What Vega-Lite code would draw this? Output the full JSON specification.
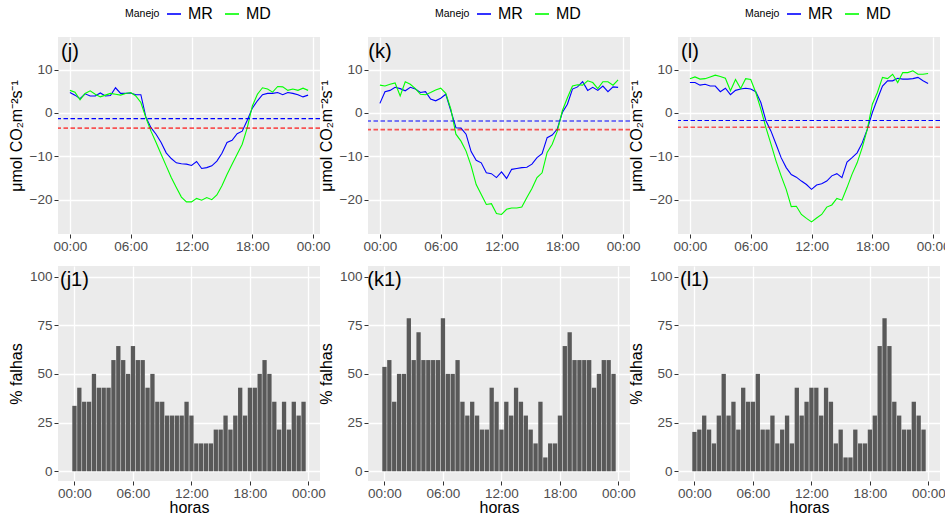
{
  "$schema": "https://vega.github.io/schema/vega-lite/v6.json",
  "padding": {"left": 8, "top": 6, "right": 5, "bottom": 2},
  "background": "white",
  "datasets": {
    "fluxo": [
      {"p":"j","m":"MR","h":0,"v":4.7},{"p":"j","m":"MR","h":0.5,"v":4.1},{"p":"j","m":"MR","h":1,"v":3.3},{"p":"j","m":"MR","h":1.5,"v":4.4},{"p":"j","m":"MR","h":2,"v":3.9},{"p":"j","m":"MR","h":2.5,"v":3.9},{"p":"j","m":"MR","h":3,"v":4.6},{"p":"j","m":"MR","h":3.5,"v":3.9},{"p":"j","m":"MR","h":4,"v":4.0},{"p":"j","m":"MR","h":4.5,"v":5.8},{"p":"j","m":"MR","h":5,"v":4.5},{"p":"j","m":"MR","h":5.5,"v":4.5},{"p":"j","m":"MR","h":6,"v":4.6},{"p":"j","m":"MR","h":6.5,"v":4.2},{"p":"j","m":"MR","h":7,"v":4.2},{"p":"j","m":"MR","h":7.5,"v":-1.0},{"p":"j","m":"MR","h":8,"v":-3.4},{"p":"j","m":"MR","h":8.5,"v":-4.9},{"p":"j","m":"MR","h":9,"v":-6.8},{"p":"j","m":"MR","h":9.5,"v":-9.2},{"p":"j","m":"MR","h":10,"v":-10.5},{"p":"j","m":"MR","h":10.5,"v":-11.5},{"p":"j","m":"MR","h":11,"v":-11.7},{"p":"j","m":"MR","h":11.5,"v":-11.8},{"p":"j","m":"MR","h":12,"v":-12.1},{"p":"j","m":"MR","h":12.5,"v":-11.2},{"p":"j","m":"MR","h":13,"v":-12.8},{"p":"j","m":"MR","h":13.5,"v":-12.6},{"p":"j","m":"MR","h":14,"v":-12.2},{"p":"j","m":"MR","h":14.5,"v":-11.1},{"p":"j","m":"MR","h":15,"v":-9.3},{"p":"j","m":"MR","h":15.5,"v":-6.8},{"p":"j","m":"MR","h":16,"v":-6.3},{"p":"j","m":"MR","h":16.5,"v":-4.8},{"p":"j","m":"MR","h":17,"v":-4.2},{"p":"j","m":"MR","h":17.5,"v":-1.7},{"p":"j","m":"MR","h":18,"v":1.1},{"p":"j","m":"MR","h":18.5,"v":2.8},{"p":"j","m":"MR","h":19,"v":4.2},{"p":"j","m":"MR","h":19.5,"v":4.5},{"p":"j","m":"MR","h":20,"v":4.5},{"p":"j","m":"MR","h":20.5,"v":4.7},{"p":"j","m":"MR","h":21,"v":4.2},{"p":"j","m":"MR","h":21.5,"v":4.7},{"p":"j","m":"MR","h":22,"v":4.5},{"p":"j","m":"MR","h":22.5,"v":4.2},{"p":"j","m":"MR","h":23,"v":3.7},{"p":"j","m":"MR","h":23.5,"v":4.1},
      {"p":"j","m":"MD","h":0,"v":5.2},{"p":"j","m":"MD","h":0.5,"v":4.8},{"p":"j","m":"MD","h":1,"v":3.0},{"p":"j","m":"MD","h":1.5,"v":4.5},{"p":"j","m":"MD","h":2,"v":5.1},{"p":"j","m":"MD","h":2.5,"v":4.3},{"p":"j","m":"MD","h":3,"v":3.7},{"p":"j","m":"MD","h":3.5,"v":4.1},{"p":"j","m":"MD","h":4,"v":4.5},{"p":"j","m":"MD","h":4.5,"v":4.3},{"p":"j","m":"MD","h":5,"v":4.1},{"p":"j","m":"MD","h":5.5,"v":4.5},{"p":"j","m":"MD","h":6,"v":4.7},{"p":"j","m":"MD","h":6.5,"v":3.9},{"p":"j","m":"MD","h":7,"v":2.4},{"p":"j","m":"MD","h":7.5,"v":-1.1},{"p":"j","m":"MD","h":8,"v":-4.2},{"p":"j","m":"MD","h":8.5,"v":-6.8},{"p":"j","m":"MD","h":9,"v":-9.5},{"p":"j","m":"MD","h":9.5,"v":-12.2},{"p":"j","m":"MD","h":10,"v":-14.9},{"p":"j","m":"MD","h":10.5,"v":-17.2},{"p":"j","m":"MD","h":11,"v":-19.4},{"p":"j","m":"MD","h":11.5,"v":-20.5},{"p":"j","m":"MD","h":12,"v":-20.5},{"p":"j","m":"MD","h":12.5,"v":-19.7},{"p":"j","m":"MD","h":13,"v":-20.1},{"p":"j","m":"MD","h":13.5,"v":-19.5},{"p":"j","m":"MD","h":14,"v":-20.0},{"p":"j","m":"MD","h":14.5,"v":-18.9},{"p":"j","m":"MD","h":15,"v":-16.8},{"p":"j","m":"MD","h":15.5,"v":-14.2},{"p":"j","m":"MD","h":16,"v":-11.8},{"p":"j","m":"MD","h":16.5,"v":-9.5},{"p":"j","m":"MD","h":17,"v":-7.2},{"p":"j","m":"MD","h":17.5,"v":-3.4},{"p":"j","m":"MD","h":18,"v":1.6},{"p":"j","m":"MD","h":18.5,"v":4.3},{"p":"j","m":"MD","h":19,"v":5.8},{"p":"j","m":"MD","h":19.5,"v":5.5},{"p":"j","m":"MD","h":20,"v":4.8},{"p":"j","m":"MD","h":20.5,"v":6.1},{"p":"j","m":"MD","h":21,"v":6.0},{"p":"j","m":"MD","h":21.5,"v":5.2},{"p":"j","m":"MD","h":22,"v":5.5},{"p":"j","m":"MD","h":22.5,"v":5.2},{"p":"j","m":"MD","h":23,"v":5.7},{"p":"j","m":"MD","h":23.5,"v":5.2},
      {"p":"k","m":"MR","h":0,"v":2.2},{"p":"k","m":"MR","h":0.5,"v":4.9},{"p":"k","m":"MR","h":1,"v":5.2},{"p":"k","m":"MR","h":1.5,"v":5.9},{"p":"k","m":"MR","h":2,"v":5.6},{"p":"k","m":"MR","h":2.5,"v":5.1},{"p":"k","m":"MR","h":3,"v":5.9},{"p":"k","m":"MR","h":3.5,"v":5.5},{"p":"k","m":"MR","h":4,"v":4.7},{"p":"k","m":"MR","h":4.5,"v":4.9},{"p":"k","m":"MR","h":5,"v":3.2},{"p":"k","m":"MR","h":5.5,"v":2.8},{"p":"k","m":"MR","h":6,"v":3.4},{"p":"k","m":"MR","h":6.5,"v":4.3},{"p":"k","m":"MR","h":7,"v":0.5},{"p":"k","m":"MR","h":7.5,"v":-3.4},{"p":"k","m":"MR","h":8,"v":-3.5},{"p":"k","m":"MR","h":8.5,"v":-4.9},{"p":"k","m":"MR","h":9,"v":-8.9},{"p":"k","m":"MR","h":9.5,"v":-10.9},{"p":"k","m":"MR","h":10,"v":-11.5},{"p":"k","m":"MR","h":10.5,"v":-13.8},{"p":"k","m":"MR","h":11,"v":-14.0},{"p":"k","m":"MR","h":11.5,"v":-14.9},{"p":"k","m":"MR","h":12,"v":-13.6},{"p":"k","m":"MR","h":12.5,"v":-15.1},{"p":"k","m":"MR","h":13,"v":-13.0},{"p":"k","m":"MR","h":13.5,"v":-12.8},{"p":"k","m":"MR","h":14,"v":-12.6},{"p":"k","m":"MR","h":14.5,"v":-12.5},{"p":"k","m":"MR","h":15,"v":-11.8},{"p":"k","m":"MR","h":15.5,"v":-10.3},{"p":"k","m":"MR","h":16,"v":-9.4},{"p":"k","m":"MR","h":16.5,"v":-5.7},{"p":"k","m":"MR","h":17,"v":-5.1},{"p":"k","m":"MR","h":17.5,"v":-3.7},{"p":"k","m":"MR","h":18,"v":0.1},{"p":"k","m":"MR","h":18.5,"v":2.0},{"p":"k","m":"MR","h":19,"v":5.5},{"p":"k","m":"MR","h":19.5,"v":6.0},{"p":"k","m":"MR","h":20,"v":7.2},{"p":"k","m":"MR","h":20.5,"v":5.2},{"p":"k","m":"MR","h":21,"v":5.9},{"p":"k","m":"MR","h":21.5,"v":5.2},{"p":"k","m":"MR","h":22,"v":6.2},{"p":"k","m":"MR","h":22.5,"v":4.9},{"p":"k","m":"MR","h":23,"v":6.0},{"p":"k","m":"MR","h":23.5,"v":5.9},
      {"p":"k","m":"MD","h":0,"v":6.4},{"p":"k","m":"MD","h":0.5,"v":6.2},{"p":"k","m":"MD","h":1,"v":6.6},{"p":"k","m":"MD","h":1.5,"v":6.9},{"p":"k","m":"MD","h":2,"v":3.9},{"p":"k","m":"MD","h":2.5,"v":7.2},{"p":"k","m":"MD","h":3,"v":6.6},{"p":"k","m":"MD","h":3.5,"v":5.6},{"p":"k","m":"MD","h":4,"v":4.3},{"p":"k","m":"MD","h":4.5,"v":4.2},{"p":"k","m":"MD","h":5,"v":4.7},{"p":"k","m":"MD","h":5.5,"v":5.3},{"p":"k","m":"MD","h":6,"v":5.7},{"p":"k","m":"MD","h":6.5,"v":4.5},{"p":"k","m":"MD","h":7,"v":0.9},{"p":"k","m":"MD","h":7.5,"v":-4.9},{"p":"k","m":"MD","h":8,"v":-6.5},{"p":"k","m":"MD","h":8.5,"v":-8.8},{"p":"k","m":"MD","h":9,"v":-12.2},{"p":"k","m":"MD","h":9.5,"v":-16.5},{"p":"k","m":"MD","h":10,"v":-18.8},{"p":"k","m":"MD","h":10.5,"v":-21.1},{"p":"k","m":"MD","h":11,"v":-20.9},{"p":"k","m":"MD","h":11.5,"v":-23.2},{"p":"k","m":"MD","h":12,"v":-23.4},{"p":"k","m":"MD","h":12.5,"v":-22.2},{"p":"k","m":"MD","h":13,"v":-21.9},{"p":"k","m":"MD","h":13.5,"v":-21.9},{"p":"k","m":"MD","h":14,"v":-21.7},{"p":"k","m":"MD","h":14.5,"v":-19.5},{"p":"k","m":"MD","h":15,"v":-17.4},{"p":"k","m":"MD","h":15.5,"v":-14.9},{"p":"k","m":"MD","h":16,"v":-13.8},{"p":"k","m":"MD","h":16.5,"v":-9.1},{"p":"k","m":"MD","h":17,"v":-7.2},{"p":"k","m":"MD","h":17.5,"v":-4.2},{"p":"k","m":"MD","h":18,"v":0.5},{"p":"k","m":"MD","h":18.5,"v":3.5},{"p":"k","m":"MD","h":19,"v":6.2},{"p":"k","m":"MD","h":19.5,"v":6.5},{"p":"k","m":"MD","h":20,"v":6.4},{"p":"k","m":"MD","h":20.5,"v":7.4},{"p":"k","m":"MD","h":21,"v":7.0},{"p":"k","m":"MD","h":21.5,"v":5.6},{"p":"k","m":"MD","h":22,"v":7.2},{"p":"k","m":"MD","h":22.5,"v":7.2},{"p":"k","m":"MD","h":23,"v":6.4},{"p":"k","m":"MD","h":23.5,"v":7.6},
      {"p":"l","m":"MR","h":0,"v":7.0},{"p":"l","m":"MR","h":0.5,"v":7.0},{"p":"l","m":"MR","h":1,"v":6.4},{"p":"l","m":"MR","h":1.5,"v":6.6},{"p":"l","m":"MR","h":2,"v":6.2},{"p":"l","m":"MR","h":2.5,"v":6.2},{"p":"l","m":"MR","h":3,"v":4.9},{"p":"l","m":"MR","h":3.5,"v":5.7},{"p":"l","m":"MR","h":4,"v":4.2},{"p":"l","m":"MR","h":4.5,"v":5.2},{"p":"l","m":"MR","h":5,"v":5.5},{"p":"l","m":"MR","h":5.5,"v":5.7},{"p":"l","m":"MR","h":6,"v":5.5},{"p":"l","m":"MR","h":6.5,"v":4.9},{"p":"l","m":"MR","h":7,"v":2.4},{"p":"l","m":"MR","h":7.5,"v":-1.8},{"p":"l","m":"MR","h":8,"v":-4.2},{"p":"l","m":"MR","h":8.5,"v":-7.2},{"p":"l","m":"MR","h":9,"v":-10.3},{"p":"l","m":"MR","h":9.5,"v":-12.6},{"p":"l","m":"MR","h":10,"v":-14.2},{"p":"l","m":"MR","h":10.5,"v":-14.8},{"p":"l","m":"MR","h":11,"v":-15.7},{"p":"l","m":"MR","h":11.5,"v":-16.5},{"p":"l","m":"MR","h":12,"v":-17.6},{"p":"l","m":"MR","h":12.5,"v":-16.6},{"p":"l","m":"MR","h":13,"v":-16.3},{"p":"l","m":"MR","h":13.5,"v":-15.7},{"p":"l","m":"MR","h":14,"v":-14.5},{"p":"l","m":"MR","h":14.5,"v":-14.0},{"p":"l","m":"MR","h":15,"v":-14.9},{"p":"l","m":"MR","h":15.5,"v":-11.3},{"p":"l","m":"MR","h":16,"v":-10.3},{"p":"l","m":"MR","h":16.5,"v":-9.2},{"p":"l","m":"MR","h":17,"v":-6.9},{"p":"l","m":"MR","h":17.5,"v":-3.8},{"p":"l","m":"MR","h":18,"v":0.1},{"p":"l","m":"MR","h":18.5,"v":3.2},{"p":"l","m":"MR","h":19,"v":6.2},{"p":"l","m":"MR","h":19.5,"v":7.4},{"p":"l","m":"MR","h":20,"v":7.4},{"p":"l","m":"MR","h":20.5,"v":8.0},{"p":"l","m":"MR","h":21,"v":7.8},{"p":"l","m":"MR","h":21.5,"v":7.8},{"p":"l","m":"MR","h":22,"v":7.9},{"p":"l","m":"MR","h":22.5,"v":8.2},{"p":"l","m":"MR","h":23,"v":7.4},{"p":"l","m":"MR","h":23.5,"v":6.8},
      {"p":"l","m":"MD","h":0,"v":7.9},{"p":"l","m":"MD","h":0.5,"v":8.3},{"p":"l","m":"MD","h":1,"v":7.8},{"p":"l","m":"MD","h":1.5,"v":7.9},{"p":"l","m":"MD","h":2,"v":8.3},{"p":"l","m":"MD","h":2.5,"v":8.7},{"p":"l","m":"MD","h":3,"v":8.4},{"p":"l","m":"MD","h":3.5,"v":8.0},{"p":"l","m":"MD","h":4,"v":5.1},{"p":"l","m":"MD","h":4.5,"v":7.7},{"p":"l","m":"MD","h":5,"v":5.6},{"p":"l","m":"MD","h":5.5,"v":7.9},{"p":"l","m":"MD","h":6,"v":7.7},{"p":"l","m":"MD","h":6.5,"v":4.7},{"p":"l","m":"MD","h":7,"v":0.9},{"p":"l","m":"MD","h":7.5,"v":-3.4},{"p":"l","m":"MD","h":8,"v":-7.2},{"p":"l","m":"MD","h":8.5,"v":-11.1},{"p":"l","m":"MD","h":9,"v":-14.5},{"p":"l","m":"MD","h":9.5,"v":-17.6},{"p":"l","m":"MD","h":10,"v":-21.6},{"p":"l","m":"MD","h":10.5,"v":-21.5},{"p":"l","m":"MD","h":11,"v":-23.4},{"p":"l","m":"MD","h":11.5,"v":-24.3},{"p":"l","m":"MD","h":12,"v":-25.1},{"p":"l","m":"MD","h":12.5,"v":-24.2},{"p":"l","m":"MD","h":13,"v":-23.4},{"p":"l","m":"MD","h":13.5,"v":-21.7},{"p":"l","m":"MD","h":14,"v":-21.2},{"p":"l","m":"MD","h":14.5,"v":-19.7},{"p":"l","m":"MD","h":15,"v":-20.1},{"p":"l","m":"MD","h":15.5,"v":-17.2},{"p":"l","m":"MD","h":16,"v":-14.1},{"p":"l","m":"MD","h":16.5,"v":-11.5},{"p":"l","m":"MD","h":17,"v":-8.0},{"p":"l","m":"MD","h":17.5,"v":-3.8},{"p":"l","m":"MD","h":18,"v":2.0},{"p":"l","m":"MD","h":18.5,"v":4.7},{"p":"l","m":"MD","h":19,"v":8.2},{"p":"l","m":"MD","h":19.5,"v":7.9},{"p":"l","m":"MD","h":20,"v":8.9},{"p":"l","m":"MD","h":20.5,"v":7.0},{"p":"l","m":"MD","h":21,"v":9.3},{"p":"l","m":"MD","h":21.5,"v":9.3},{"p":"l","m":"MD","h":22,"v":9.7},{"p":"l","m":"MD","h":22.5,"v":8.9},{"p":"l","m":"MD","h":23,"v":8.9},{"p":"l","m":"MD","h":23.5,"v":9.1}
    ],
    "limiar": [
      {"p":"j","m":"MR","v":-1.3},{"p":"j","m":"MD","v":-3.5},
      {"p":"k","m":"MR","v":-1.85},{"p":"k","m":"MD","v":-3.85},
      {"p":"l","m":"MR","v":-1.76},{"p":"l","m":"MD","v":-3.3}
    ],
    "falhas": [
      {"p":"j","h":0,"f":33.6},{"p":"j","h":0.5,"f":42.9},{"p":"j","h":1,"f":35.7},{"p":"j","h":1.5,"f":35.7},{"p":"j","h":2,"f":50},{"p":"j","h":2.5,"f":42.9},{"p":"j","h":3,"f":42.9},{"p":"j","h":3.5,"f":42.9},{"p":"j","h":4,"f":57.1},{"p":"j","h":4.5,"f":64.3},{"p":"j","h":5,"f":57.1},{"p":"j","h":5.5,"f":50},{"p":"j","h":6,"f":64.3},{"p":"j","h":6.5,"f":57.1},{"p":"j","h":7,"f":57.1},{"p":"j","h":7.5,"f":42.9},{"p":"j","h":8,"f":50},{"p":"j","h":8.5,"f":35.7},{"p":"j","h":9,"f":35.7},{"p":"j","h":9.5,"f":28.6},{"p":"j","h":10,"f":28.6},{"p":"j","h":10.5,"f":28.6},{"p":"j","h":11,"f":28.6},{"p":"j","h":11.5,"f":35.7},{"p":"j","h":12,"f":28.6},{"p":"j","h":12.5,"f":14.3},{"p":"j","h":13,"f":14.3},{"p":"j","h":13.5,"f":14.3},{"p":"j","h":14,"f":14.3},{"p":"j","h":14.5,"f":21.4},{"p":"j","h":15,"f":21.4},{"p":"j","h":15.5,"f":28.6},{"p":"j","h":16,"f":21.4},{"p":"j","h":16.5,"f":28.6},{"p":"j","h":17,"f":42.9},{"p":"j","h":17.5,"f":28.6},{"p":"j","h":18,"f":42.9},{"p":"j","h":18.5,"f":42.9},{"p":"j","h":19,"f":50},{"p":"j","h":19.5,"f":57.1},{"p":"j","h":20,"f":50},{"p":"j","h":20.5,"f":35.7},{"p":"j","h":21,"f":21.4},{"p":"j","h":21.5,"f":35.7},{"p":"j","h":22,"f":21.4},{"p":"j","h":22.5,"f":35.7},{"p":"j","h":23,"f":28.6},{"p":"j","h":23.5,"f":35.7},
      {"p":"k","h":0,"f":53.6},{"p":"k","h":0.5,"f":57.1},{"p":"k","h":1,"f":35.7},{"p":"k","h":1.5,"f":50},{"p":"k","h":2,"f":50},{"p":"k","h":2.5,"f":78.6},{"p":"k","h":3,"f":57.1},{"p":"k","h":3.5,"f":71.4},{"p":"k","h":4,"f":57.1},{"p":"k","h":4.5,"f":57.1},{"p":"k","h":5,"f":57.1},{"p":"k","h":5.5,"f":57.1},{"p":"k","h":6,"f":78.6},{"p":"k","h":6.5,"f":50},{"p":"k","h":7,"f":50},{"p":"k","h":7.5,"f":57.1},{"p":"k","h":8,"f":35.7},{"p":"k","h":8.5,"f":28.6},{"p":"k","h":9,"f":35.7},{"p":"k","h":9.5,"f":28.6},{"p":"k","h":10,"f":21.4},{"p":"k","h":10.5,"f":21.4},{"p":"k","h":11,"f":42.9},{"p":"k","h":11.5,"f":35.7},{"p":"k","h":12,"f":21.4},{"p":"k","h":12.5,"f":35.7},{"p":"k","h":13,"f":28.6},{"p":"k","h":13.5,"f":42.9},{"p":"k","h":14,"f":35.7},{"p":"k","h":14.5,"f":28.6},{"p":"k","h":15,"f":21.4},{"p":"k","h":15.5,"f":14.3},{"p":"k","h":16,"f":35.7},{"p":"k","h":16.5,"f":7.1},{"p":"k","h":17,"f":14.3},{"p":"k","h":17.5,"f":14.3},{"p":"k","h":18,"f":28.6},{"p":"k","h":18.5,"f":64.3},{"p":"k","h":19,"f":71.4},{"p":"k","h":19.5,"f":57.1},{"p":"k","h":20,"f":57.1},{"p":"k","h":20.5,"f":57.1},{"p":"k","h":21,"f":57.1},{"p":"k","h":21.5,"f":42.9},{"p":"k","h":22,"f":50},{"p":"k","h":22.5,"f":57.1},{"p":"k","h":23,"f":57.1},{"p":"k","h":23.5,"f":50},
      {"p":"l","h":0,"f":20.2},{"p":"l","h":0.5,"f":21.4},{"p":"l","h":1,"f":28.6},{"p":"l","h":1.5,"f":21.4},{"p":"l","h":2,"f":14.3},{"p":"l","h":2.5,"f":28.6},{"p":"l","h":3,"f":50},{"p":"l","h":3.5,"f":28.6},{"p":"l","h":4,"f":35.7},{"p":"l","h":4.5,"f":21.4},{"p":"l","h":5,"f":42.9},{"p":"l","h":5.5,"f":35.7},{"p":"l","h":6,"f":35.7},{"p":"l","h":6.5,"f":50},{"p":"l","h":7,"f":21.4},{"p":"l","h":7.5,"f":21.4},{"p":"l","h":8,"f":28.6},{"p":"l","h":8.5,"f":14.3},{"p":"l","h":9,"f":21.4},{"p":"l","h":9.5,"f":28.6},{"p":"l","h":10,"f":14.3},{"p":"l","h":10.5,"f":42.9},{"p":"l","h":11,"f":28.6},{"p":"l","h":11.5,"f":35.7},{"p":"l","h":12,"f":42.9},{"p":"l","h":12.5,"f":42.9},{"p":"l","h":13,"f":28.6},{"p":"l","h":13.5,"f":42.9},{"p":"l","h":14,"f":35.7},{"p":"l","h":14.5,"f":14.3},{"p":"l","h":15,"f":21.4},{"p":"l","h":15.5,"f":7.1},{"p":"l","h":16,"f":7.1},{"p":"l","h":16.5,"f":21.4},{"p":"l","h":17,"f":14.3},{"p":"l","h":17.5,"f":14.3},{"p":"l","h":18,"f":21.4},{"p":"l","h":18.5,"f":28.6},{"p":"l","h":19,"f":64.3},{"p":"l","h":19.5,"f":78.6},{"p":"l","h":20,"f":64.3},{"p":"l","h":20.5,"f":35.7},{"p":"l","h":21,"f":28.6},{"p":"l","h":21.5,"f":21.4},{"p":"l","h":22,"f":21.4},{"p":"l","h":22.5,"f":35.7},{"p":"l","h":23,"f":28.6},{"p":"l","h":23.5,"f":21.4}
    ]
  },
  "config": {
    "font": "Liberation Sans",
    "view": {"fill": "#EBEBEB", "stroke": null},
    "axis": {
      "domain": false,
      "gridColor": "#FFFFFF",
      "gridWidth": 1.3,
      "labelFont": "Liberation Sans",
      "labelFontSize": 13.5,
      "labelColor": "#4D4D4D",
      "labelPadding": 2,
      "labelOverlap": false,
      "tickColor": "#333333",
      "tickSize": 4,
      "tickWidth": 1,
      "titleFont": "Liberation Sans",
      "titleFontSize": 16,
      "titleFontWeight": "normal",
      "titleColor": "#000000",
      "titlePadding": 5
    },
    "axisX": {"labelPadding": 1, "titlePadding": 0},
    "legend": {
      "orient": "none",
      "legendX": 67,
      "legendY": -31,
      "direction": "horizontal",
      "titleOrient": "left",
      "symbolType": "stroke",
      "symbolSize": 196,
      "symbolStrokeWidth": 1.6,
      "labelFont": "Liberation Sans",
      "labelFontSize": 16,
      "labelColor": "#000000",
      "labelOffset": 6,
      "columnPadding": 8,
      "titleFont": "Liberation Sans",
      "titleFontSize": 10.5,
      "titleFontWeight": "normal",
      "titleColor": "#000000",
      "titlePadding": 6
    }
  },
  "columns": 3,
  "spacing": {"row": 32, "column": 48},
  "bounds": "flush",
  "resolve": {"scale": {"color": "independent"}, "legend": {"color": "independent"}},
  "concat": [
    {
      "width": 262, "height": 197,
      "layer": [
        {
          "data": {"name": "fluxo"},
          "transform": [{"filter": "datum.p == 'j'"}],
          "mark": {"type": "line", "strokeWidth": 1.1},
          "encoding": {
            "x": {"field": "h", "type": "quantitative", "scale": {"domain": [-1.175, 24.675], "nice": false, "zero": false},
              "axis": {"title": null, "values": [0,3,6,9,12,15,18,21,24], "labelExpr": "datum.value % 6 == 0 ? (datum.value == 24 ? '00:00' : (datum.value < 10 ? '0' : '') + datum.value + ':00') : ''", "tickOpacity": {"condition": {"test": "datum.value % 6 != 0", "value": 0}, "value": 1}, "gridWidth": {"condition": {"test": "datum.value % 6 != 0", "value": 0.6}, "value": 1.3}}},
            "y": {"field": "v", "type": "quantitative", "scale": {"domain": [-27.9, 17.5], "nice": false, "zero": false},
              "axis": {"title": "μmol CO₂m⁻²s⁻¹", "values": [-20,-10,0,10]}},
            "color": {"field": "m", "type": "nominal", "scale": {"domain": ["MR", "MD"], "range": ["#0000FF", "#00FF00"]}, "legend": {"title": "Manejo"}}
          }
        },
        {
          "data": {"name": "limiar"},
          "transform": [{"filter": "datum.p == 'j' && datum.m == 'MR'"}],
          "mark": {"type": "rule", "color": "#0000FF", "strokeDash": [4.5, 2.5], "strokeWidth": 1.1},
          "encoding": {"y": {"field": "v", "type": "quantitative"}}
        },
        {
          "data": {"name": "limiar"},
          "transform": [{"filter": "datum.p == 'j' && datum.m == 'MD'"}],
          "mark": {"type": "rule", "color": "#FF0000", "strokeDash": [4.5, 2.5], "strokeWidth": 1.6, "opacity": 0.65},
          "encoding": {"y": {"field": "v", "type": "quantitative"}}
        },
        {
          "data": {"values": [{"t": "(j)"}]},
          "mark": {"type": "text", "fontSize": 20, "align": "center", "baseline": "middle", "color": "#000000"},
          "encoding": {"x": {"datum": 0, "type": "quantitative"}, "y": {"datum": 14, "type": "quantitative"}, "text": {"field": "t"}}
        }
      ]
    },
    {
      "width": 262, "height": 197,
      "layer": [
        {
          "data": {"name": "fluxo"},
          "transform": [{"filter": "datum.p == 'k'"}],
          "mark": {"type": "line", "strokeWidth": 1.1},
          "encoding": {
            "x": {"field": "h", "type": "quantitative", "scale": {"domain": [-1.175, 24.675], "nice": false, "zero": false},
              "axis": {"title": null, "values": [0,3,6,9,12,15,18,21,24], "labelExpr": "datum.value % 6 == 0 ? (datum.value == 24 ? '00:00' : (datum.value < 10 ? '0' : '') + datum.value + ':00') : ''", "tickOpacity": {"condition": {"test": "datum.value % 6 != 0", "value": 0}, "value": 1}, "gridWidth": {"condition": {"test": "datum.value % 6 != 0", "value": 0.6}, "value": 1.3}}},
            "y": {"field": "v", "type": "quantitative", "scale": {"domain": [-27.9, 17.5], "nice": false, "zero": false},
              "axis": {"title": "μmol CO₂m⁻²s⁻¹", "values": [-20,-10,0,10]}},
            "color": {"field": "m", "type": "nominal", "scale": {"domain": ["MR", "MD"], "range": ["#0000FF", "#00FF00"]}, "legend": {"title": "Manejo"}}
          }
        },
        {
          "data": {"name": "limiar"},
          "transform": [{"filter": "datum.p == 'k' && datum.m == 'MR'"}],
          "mark": {"type": "rule", "color": "#0000FF", "strokeDash": [4.5, 2.5], "strokeWidth": 1.1},
          "encoding": {"y": {"field": "v", "type": "quantitative"}}
        },
        {
          "data": {"name": "limiar"},
          "transform": [{"filter": "datum.p == 'k' && datum.m == 'MD'"}],
          "mark": {"type": "rule", "color": "#FF0000", "strokeDash": [4.5, 2.5], "strokeWidth": 1.6, "opacity": 0.65},
          "encoding": {"y": {"field": "v", "type": "quantitative"}}
        },
        {
          "data": {"values": [{"t": "(k)"}]},
          "mark": {"type": "text", "fontSize": 20, "align": "center", "baseline": "middle", "color": "#000000"},
          "encoding": {"x": {"datum": 0, "type": "quantitative"}, "y": {"datum": 14, "type": "quantitative"}, "text": {"field": "t"}}
        }
      ]
    },
    {
      "width": 262, "height": 197,
      "layer": [
        {
          "data": {"name": "fluxo"},
          "transform": [{"filter": "datum.p == 'l'"}],
          "mark": {"type": "line", "strokeWidth": 1.1},
          "encoding": {
            "x": {"field": "h", "type": "quantitative", "scale": {"domain": [-1.175, 24.675], "nice": false, "zero": false},
              "axis": {"title": null, "values": [0,3,6,9,12,15,18,21,24], "labelExpr": "datum.value % 6 == 0 ? (datum.value == 24 ? '00:00' : (datum.value < 10 ? '0' : '') + datum.value + ':00') : ''", "tickOpacity": {"condition": {"test": "datum.value % 6 != 0", "value": 0}, "value": 1}, "gridWidth": {"condition": {"test": "datum.value % 6 != 0", "value": 0.6}, "value": 1.3}}},
            "y": {"field": "v", "type": "quantitative", "scale": {"domain": [-27.9, 17.5], "nice": false, "zero": false},
              "axis": {"title": "μmol CO₂m⁻²s⁻¹", "values": [-20,-10,0,10]}},
            "color": {"field": "m", "type": "nominal", "scale": {"domain": ["MR", "MD"], "range": ["#0000FF", "#00FF00"]}, "legend": {"title": "Manejo"}}
          }
        },
        {
          "data": {"name": "limiar"},
          "transform": [{"filter": "datum.p == 'l' && datum.m == 'MR'"}],
          "mark": {"type": "rule", "color": "#0000FF", "strokeDash": [4.5, 2.5], "strokeWidth": 1.1},
          "encoding": {"y": {"field": "v", "type": "quantitative"}}
        },
        {
          "data": {"name": "limiar"},
          "transform": [{"filter": "datum.p == 'l' && datum.m == 'MD'"}],
          "mark": {"type": "rule", "color": "#FF0000", "strokeDash": [4.5, 2.5], "strokeWidth": 1.6, "opacity": 0.65},
          "encoding": {"y": {"field": "v", "type": "quantitative"}}
        },
        {
          "data": {"values": [{"t": "(l)"}]},
          "mark": {"type": "text", "fontSize": 20, "align": "center", "baseline": "middle", "color": "#000000"},
          "encoding": {"x": {"datum": 0, "type": "quantitative"}, "y": {"datum": 14, "type": "quantitative"}, "text": {"field": "t"}}
        }
      ]
    },
    {
      "width": 262, "height": 215,
      "layer": [
        {
          "data": {"name": "falhas"},
          "transform": [{"filter": "datum.p == 'j'"}],
          "mark": {"type": "bar", "width": 4.3, "color": "#595959"},
          "encoding": {
            "x": {"field": "h", "type": "quantitative", "scale": {"domain": [-1.175, 24.675], "nice": false, "zero": false},
              "axis": {"title": "horas", "values": [0,3,6,9,12,15,18,21,24], "labelExpr": "datum.value % 6 == 0 ? (datum.value == 24 ? '00:00' : (datum.value < 10 ? '0' : '') + datum.value + ':00') : ''", "tickOpacity": {"condition": {"test": "datum.value % 6 != 0", "value": 0}, "value": 1}, "gridWidth": {"condition": {"test": "datum.value % 6 != 0", "value": 0.6}, "value": 1.3}}},
            "y": {"field": "f", "type": "quantitative", "scale": {"domain": [-5, 105.4], "nice": false, "zero": false},
              "axis": {"title": "% falhas", "values": [0,12.5,25,37.5,50,62.5,75,87.5,100], "labelExpr": "datum.value % 25 == 0 ? '' + datum.value : ''", "tickOpacity": {"condition": {"test": "datum.value % 25 != 0", "value": 0}, "value": 1}, "gridWidth": {"condition": {"test": "datum.value % 25 != 0", "value": 0.6}, "value": 1.3}}},
            "y2": {"datum": 0}
          }
        },
        {
          "data": {"values": [{"t": "(j1)"}]},
          "mark": {"type": "text", "fontSize": 20, "align": "center", "baseline": "middle", "color": "#000000"},
          "encoding": {"x": {"datum": 0, "type": "quantitative"}, "y": {"datum": 98, "type": "quantitative"}, "text": {"field": "t"}}
        }
      ]
    },
    {
      "width": 262, "height": 215,
      "layer": [
        {
          "data": {"name": "falhas"},
          "transform": [{"filter": "datum.p == 'k'"}],
          "mark": {"type": "bar", "width": 4.3, "color": "#595959"},
          "encoding": {
            "x": {"field": "h", "type": "quantitative", "scale": {"domain": [-1.175, 24.675], "nice": false, "zero": false},
              "axis": {"title": "horas", "values": [0,3,6,9,12,15,18,21,24], "labelExpr": "datum.value % 6 == 0 ? (datum.value == 24 ? '00:00' : (datum.value < 10 ? '0' : '') + datum.value + ':00') : ''", "tickOpacity": {"condition": {"test": "datum.value % 6 != 0", "value": 0}, "value": 1}, "gridWidth": {"condition": {"test": "datum.value % 6 != 0", "value": 0.6}, "value": 1.3}}},
            "y": {"field": "f", "type": "quantitative", "scale": {"domain": [-5, 105.4], "nice": false, "zero": false},
              "axis": {"title": "% falhas", "values": [0,12.5,25,37.5,50,62.5,75,87.5,100], "labelExpr": "datum.value % 25 == 0 ? '' + datum.value : ''", "tickOpacity": {"condition": {"test": "datum.value % 25 != 0", "value": 0}, "value": 1}, "gridWidth": {"condition": {"test": "datum.value % 25 != 0", "value": 0.6}, "value": 1.3}}},
            "y2": {"datum": 0}
          }
        },
        {
          "data": {"values": [{"t": "(k1)"}]},
          "mark": {"type": "text", "fontSize": 20, "align": "center", "baseline": "middle", "color": "#000000"},
          "encoding": {"x": {"datum": 0, "type": "quantitative"}, "y": {"datum": 98, "type": "quantitative"}, "text": {"field": "t"}}
        }
      ]
    },
    {
      "width": 262, "height": 215,
      "layer": [
        {
          "data": {"name": "falhas"},
          "transform": [{"filter": "datum.p == 'l'"}],
          "mark": {"type": "bar", "width": 4.3, "color": "#595959"},
          "encoding": {
            "x": {"field": "h", "type": "quantitative", "scale": {"domain": [-1.175, 24.675], "nice": false, "zero": false},
              "axis": {"title": "horas", "values": [0,3,6,9,12,15,18,21,24], "labelExpr": "datum.value % 6 == 0 ? (datum.value == 24 ? '00:00' : (datum.value < 10 ? '0' : '') + datum.value + ':00') : ''", "tickOpacity": {"condition": {"test": "datum.value % 6 != 0", "value": 0}, "value": 1}, "gridWidth": {"condition": {"test": "datum.value % 6 != 0", "value": 0.6}, "value": 1.3}}},
            "y": {"field": "f", "type": "quantitative", "scale": {"domain": [-5, 105.4], "nice": false, "zero": false},
              "axis": {"title": "% falhas", "values": [0,12.5,25,37.5,50,62.5,75,87.5,100], "labelExpr": "datum.value % 25 == 0 ? '' + datum.value : ''", "tickOpacity": {"condition": {"test": "datum.value % 25 != 0", "value": 0}, "value": 1}, "gridWidth": {"condition": {"test": "datum.value % 25 != 0", "value": 0.6}, "value": 1.3}}},
            "y2": {"datum": 0}
          }
        },
        {
          "data": {"values": [{"t": "(l1)"}]},
          "mark": {"type": "text", "fontSize": 20, "align": "center", "baseline": "middle", "color": "#000000"},
          "encoding": {"x": {"datum": 0, "type": "quantitative"}, "y": {"datum": 98, "type": "quantitative"}, "text": {"field": "t"}}
        }
      ]
    }
  ]
}
